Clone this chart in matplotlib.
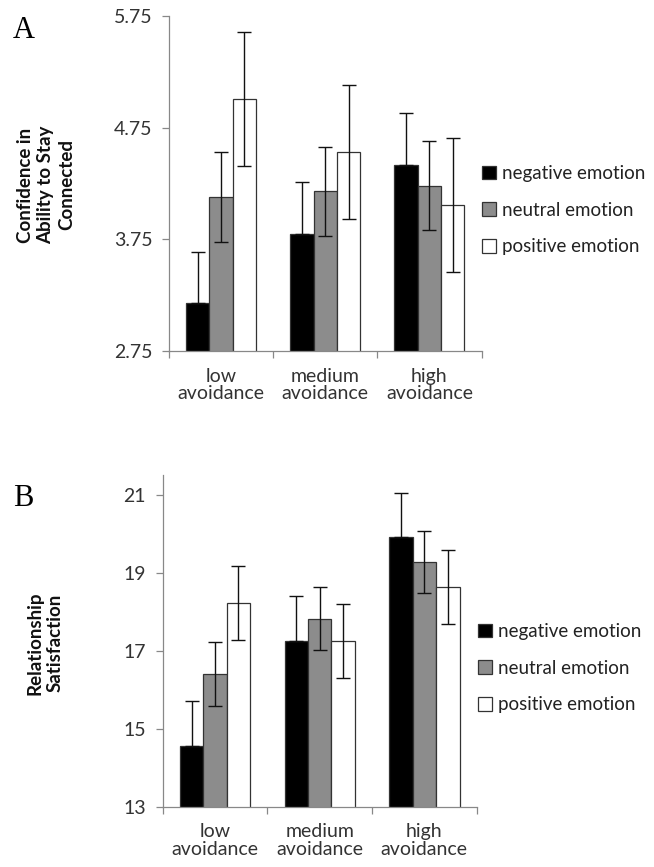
import matplotlib
matplotlib.use('Agg')
import matplotlib.pyplot as plt
from matplotlib.patches import Patch

plt.rcParams['font.family'] = ['Lato', 'DejaVu Sans']

groups = ['low\navoidance', 'medium\navoidance', 'high\navoidance']
emotions = ['negative emotion', 'neutral emotion', 'positive emotion']
colors = ['#000000', '#8c8c8c', '#ffffff']

# panel A: confidence in ability to stay connected
conf_means = [[3.18, 3.80, 4.42],
              [4.13, 4.18, 4.23],
              [5.01, 4.53, 4.06]]
conf_err = [[0.46, 0.46, 0.46],
            [0.40, 0.40, 0.40],
            [0.60, 0.60, 0.60]]
conf_ticks = [2.75, 3.75, 4.75, 5.75]

# panel B: relationship satisfaction
sat_means = [[14.56, 17.24, 19.92],
             [16.40, 17.82, 19.27],
             [18.22, 17.24, 18.63]]
sat_err = [[1.14, 1.15, 1.13],
           [0.81, 0.80, 0.80],
           [0.95, 0.95, 0.95]]
sat_ticks = [13, 15, 17, 19, 21]

W, H = 654, 867
fig = plt.figure(figsize=(W/100, H/100), dpi=100)

def draw(rect, means, errs, ticks, ylim, fmt, ylabel, letter, letter_xy, leg_xy):
    l, t, r, b = rect
    ax = fig.add_axes([l/W, 1-b/H, (r-l)/W, (b-t)/H])
    bw = 0.224
    x = [0, 1, 2]
    for i in range(3):
        xs = [xx + (i-1)*bw for xx in x]
        ax.bar(xs, means[i], bw, bottom=0, color=colors[i], edgecolor='#333333',
               linewidth=0.9, zorder=2, label=emotions[i])
        if i == 0:
            # lower half is hidden inside the black bar
            yerr = [[0]*3, errs[i]]
        else:
            yerr = errs[i]
        ax.errorbar(xs, means[i], yerr=yerr, fmt='none', ecolor='#111111',
                    elinewidth=1, capsize=5, capthick=1, zorder=3)
    ax.set_ylim(*ylim)
    ax.set_xlim(-0.5, 2.5)
    ax.set_yticks(ticks)
    ax.set_yticklabels([fmt.format(v) for v in ticks])
    ax.set_xticks([-0.5, 0.5, 1.5, 2.5])
    ax.set_xticklabels([])
    ax.set_xticks(x, minor=True)
    ax.set_xticklabels(groups, minor=True)
    ax.tick_params(axis='x', which='minor', length=0, pad=12, labelsize=14, colors='#333333')
    ax.tick_params(axis='x', which='major', length=5, width=0.9, color='#888888')
    ax.tick_params(axis='y', length=5, width=0.9, color='#888888', labelsize=14,
                   labelcolor='#333333', pad=7)
    for s in ['top', 'right']:
        ax.spines[s].set_visible(False)
    for s in ['left', 'bottom']:
        ax.spines[s].set_color('#888888')
        ax.spines[s].set_linewidth(0.9)
    for lab in ax.get_xticklabels(minor=True):
        lab.set_linespacing(1.05)
    fig.text(ylabel[1]/W, 1-ylabel[2]/H, ylabel[0], rotation=90, ha='center', va='center',
             fontsize=13.5, fontweight='bold', linespacing=1.25, color='#111111')
    fig.text(letter_xy[0]/W, 1-letter_xy[1]/H, letter, family='Liberation Serif',
             fontsize=22, ha='left', va='center')
    handles = [Patch(facecolor=colors[i], edgecolor='#333333', linewidth=0.9) for i in range(3)]
    fig.legend(handles, emotions, loc='upper left',
               bbox_to_anchor=(leg_xy[0]/W, 1-leg_xy[1]/H), frameon=False,
               fontsize=13.5, handlelength=0.75, handleheight=0.75, handletextpad=0.3,
               labelspacing=1.05, borderaxespad=0, borderpad=0, labelcolor='#222222')
    return ax

draw((169, 16, 481.5, 351), conf_means, conf_err, conf_ticks, (2.75, 5.75), '{:.2f}',
     ('Confidence in\nAbility to Stay\nConnected', 46, 185), 'A', (13, 31), (482, 165))
draw((162.7, 475, 476.7, 806.7), sat_means, sat_err, sat_ticks, (13, 21.5), '{:d}',
     ('Relationship\nSatisfaction', 45, 643), 'B', (13, 498), (478, 623))

fig.savefig('out.png', dpi=100)
